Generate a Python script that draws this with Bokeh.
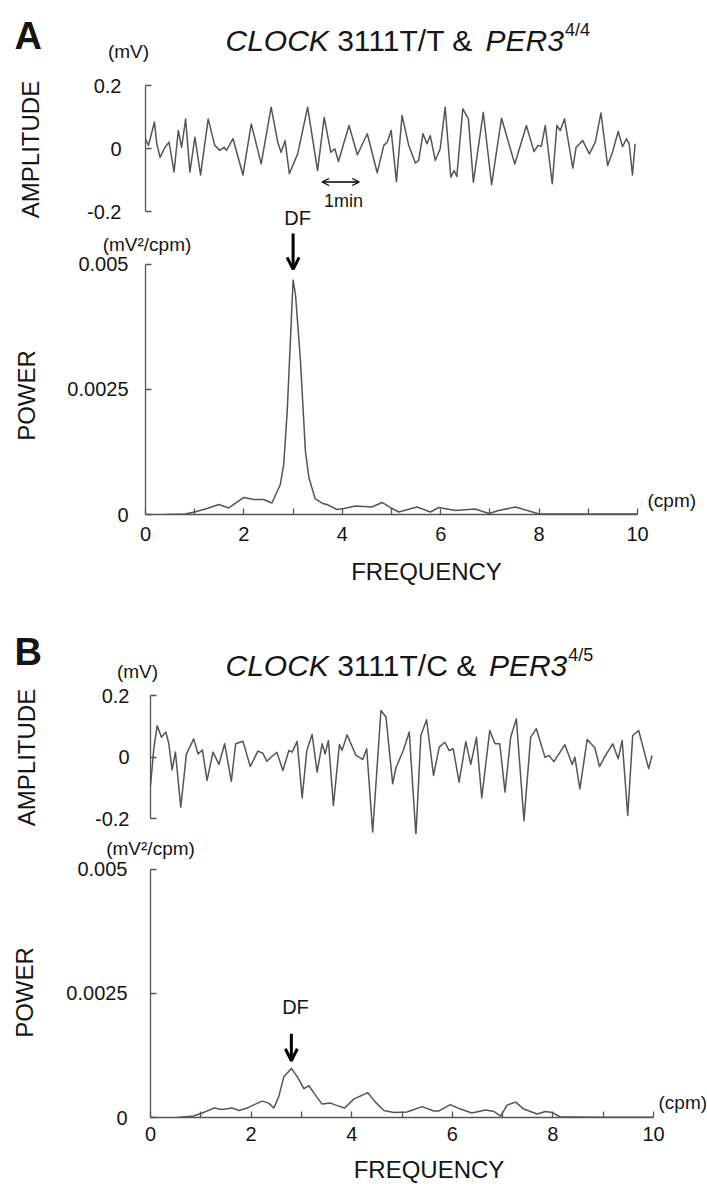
import numpy as np
from bokeh.plotting import figure
from bokeh.models import Range1d, Label, Arrow, OpenHead, FixedTicker, LinearAxis
from bokeh.layouts import column, row
from bokeh.embed import file_html
from bokeh.resources import INLINE

# ---------------- data ----------------
# Panel A: time trace (s) and amplitude (mV)
a_time = [0, 4.8, 9.1, 14.4, 18.2, 23.5, 31.5, 38.0, 46.0, 52.9, 58.3, 64.7, 71.6, 79.7, 88.8,
          101.1, 111.7, 119.8, 126.7, 130.5, 141.2, 157.2, 170.6, 186.6, 202.6, 213.3, 218.7,
          225.1, 232.0, 245.4, 261.5, 277.5, 288.2, 298.9, 305.3, 311.2, 328.3, 341.7, 357.7,
          373.7, 384.4, 389.8, 396.2, 404.7, 413.8, 424.5, 435.2, 440.6, 447.5, 453.9, 459.3,
          467.3, 475.3, 483.3, 492.4, 497.8, 502.1, 511.7, 520.8, 528.8, 544.8, 558.2, 574.2,
          595.6, 614.3, 626.6, 633.0, 638.4, 644.8, 656.0, 663.5, 668.9, 675.8, 689.2, 694.5,
          705.2, 715.9, 725.5, 734.6, 745.3, 753.4, 762.4, 769.4, 775.8, 780.1, 785.4, 789.7]
a_amp = [0.030, 0.010, 0.043, 0.084, 0.015, -0.028, 0.004, 0.020, -0.075, 0.057, 0.004, 0.094,
         -0.075, 0.036, -0.084, 0.094, 0.010, -0.006, 0.004, -0.006, 0.031, -0.084, 0.078,
         -0.049, 0.131, 0.020, -0.012, 0.025, -0.080, -0.017, 0.131, -0.070, 0.099, -0.012,
         -0.001, -0.041, 0.073, -0.020, 0.047, -0.077, 0.010, 0.020, 0.057, -0.105, 0.105,
         0.010, -0.046, -0.038, 0.047, 0.015, 0.041, -0.038, -0.001, 0.131, -0.091, -0.070,
         -0.089, 0.126, 0.094, -0.107, 0.115, -0.115, 0.096, -0.049, 0.073, -0.010, 0.010,
         0.007, 0.073, -0.112, 0.073, 0.057, 0.094, -0.062, 0.004, 0.025, -0.017, 0.020,
         0.113, -0.054, -0.010, 0.054, 0.006, 0.031, 0.015, -0.084, 0.015]

# Panel A: power spectrum
a_freq = [0.41, 0.8, 1.0, 1.25, 1.49, 1.69, 2.0, 2.2, 2.4, 2.57, 2.74, 2.81, 2.88, 2.95, 3.0,
          3.05, 3.15, 3.25, 3.32, 3.45, 3.6, 3.69, 3.89, 4.03, 4.27, 4.6, 4.81, 4.97, 5.15,
          5.52, 5.79, 5.96, 6.3, 6.7, 6.98, 7.18, 7.52, 8.0, 9.0, 10.0]
a_power = [0.0, 0.00001, 0.00005, 0.00012, 0.0002, 0.00013, 0.00034, 0.0003, 0.0003, 0.00023,
           0.0006, 0.0010, 0.00206, 0.00358, 0.00468, 0.00438, 0.00306, 0.00127, 0.00074,
           0.00031, 0.00022, 0.0002, 0.0001, 0.00012, 0.00017, 0.00015, 0.00024, 0.00014,
           0.00005, 0.00015, 0.00005, 0.00014, 0.00008, 0.00011, 0.00002, 0.00008, 0.00015,
           0.00001, 0.00001, 0.00001]

# Panel B: time trace (s) and amplitude (mV)
b_time = [0, 5.2, 10.5, 17.3, 24.1, 28.8, 34.0, 39.2, 47.6, 56.5, 68.0, 74.8, 81.6, 88.9, 98.3,
          107.7, 116.6, 127.1, 133.9, 145.4, 156.9, 168.9, 176.8, 183.1, 189.8, 198.8, 208.2,
          217.6, 222.8, 230.6, 238.5, 245.8, 254.2, 262.0, 269.9, 274.6, 279.8, 287.6, 297.1,
          301.2, 309.1, 323.2, 333.7, 340.0, 349.4, 362.4, 370.3, 380.8, 386.0, 397.5, 406.9,
          417.4, 425.2, 434.2, 445.1, 454.0, 462.9, 469.7, 476.0, 485.3, 495.8, 503.6, 512.6,
          520.9, 533.5, 541.8, 549.2, 557.5, 566.4, 575.3, 587.3, 597.8, 606.7, 620.3, 626.5,
          634.4, 651.6, 663.2, 667.3, 675.2, 686.7, 698.7, 706.1, 715.5, 726.9, 735.4, 741.7,
          750.5, 758.3, 767.7, 783.4, 788.7]
b_amp = [-0.093, 0.027, 0.102, 0.064, 0.081, 0.043, -0.042, 0.016, -0.163, 0.010, 0.059, 0.010,
         0.023, -0.076, 0.016, -0.024, 0.043, -0.079, 0.043, 0.051, -0.031, 0.019, 0.012,
         -0.014, 0.000, 0.015, -0.044, 0.021, 0.016, 0.051, -0.133, 0.021, 0.073, -0.049,
         0.043, 0.010, 0.054, -0.158, 0.041, 0.021, 0.072, 0.005, -0.008, 0.027, -0.244, 0.151,
         0.130, -0.087, -0.035, 0.021, 0.081, -0.255, 0.070, 0.121, -0.060, 0.032, 0.048,
         0.021, 0.027, -0.082, 0.050, -0.024, 0.064, -0.133, 0.086, 0.043, 0.043, -0.114,
         0.064, 0.124, -0.207, 0.064, 0.092, -0.001, 0.005, -0.015, 0.040, -0.024, 0.000,
         -0.104, 0.057, 0.030, -0.031, 0.005, 0.043, -0.006, 0.054, -0.190, 0.070, 0.086,
         -0.038, 0.005]

# Panel B: power spectrum
b_freq = [0.53, 0.86, 1.03, 1.26, 1.42, 1.62, 1.76, 1.92, 2.02, 2.22, 2.35, 2.45, 2.55, 2.65,
          2.80, 2.92, 3.05, 3.15, 3.28, 3.41, 3.58, 3.71, 3.86, 4.04, 4.32, 4.47, 4.64, 4.84,
          5.10, 5.40, 5.63, 5.73, 5.96, 6.16, 6.39, 6.66, 6.83, 6.96, 7.09, 7.26, 7.42, 7.69,
          7.85, 7.99, 8.15, 8.42, 9.0, 10.0]
b_power = [0.0, 0.00003, 0.00009, 0.00019, 0.00016, 0.00019, 0.00014, 0.00019, 0.00024, 0.00033,
           0.00029, 0.00019, 0.00042, 0.00082, 0.00099, 0.00082, 0.00058, 0.00064, 0.00045,
           0.00027, 0.00029, 0.00024, 0.00019, 0.00037, 0.0005, 0.00031, 0.00014, 0.0001,
           0.00011, 0.00022, 0.00013, 0.00013, 0.00026, 0.00017, 0.00009, 0.00015, 0.00012,
           0.00003, 0.00025, 0.00031, 0.00017, 0.00007, 0.00012, 0.0001, 0.00001, 0.00001,
           0.000005, 0.000005]

amp_ticks = [-0.2, 0.0, 0.2]
amp_tick_labels = ["-0.2", "0", "0.2"]
power_ticks = [0.0, 0.0025, 0.005]
power_tick_labels = ["0", "0.0025", "0.005"]
freq_ticks = [0, 2, 4, 6, 8, 10]
freq_minor_ticks = [1, 3, 5, 7, 9]

title_a = ("CLOCK", "3111T/T &", "PER3", "4/4")
title_b = ("CLOCK", "3111T/C &", "PER3", "4/5")
amp_unit = "(mV)"
power_unit = "(mV²/cpm)"
freq_unit = "(cpm)"

# ---------------- styling / layout ----------------
W = 707
STRIP = 50
FONT = "Liberation Sans"
INK = "#151515"
GREY = "#555555"

ADV = {'C': .722, 'L': .556, 'O': .778, 'K': .667, ' ': .278, 'T': .611, '/': .278,
       '&': .667, 'P': .667, 'E': .667, 'R': .722}


def adv(s, size):
    return sum(ADV.get(c, 0.556) for c in s) * size


def bare(p):
    p.outline_line_color = None
    p.grid.visible = False
    p.background_fill_color = "white"
    p.border_fill_color = "white"


def text_fig(left, top, w, h):
    """A figure with no axes whose frame covers it; its units are page pixels."""
    p = figure(width=w, height=h, title=None, x_range=Range1d(left, left + w),
               y_range=Range1d(top + h, top), output_backend="svg",
               toolbar_location=None, tools="", x_axis_location=None, y_axis_location=None,
               min_border_left=0, min_border_right=0, min_border_top=0, min_border_bottom=0)
    bare(p)
    return p, (lambda cx, cy: (cx, cy))


def plot_fig(left, top, w, h, L, T, B, ppx, y_val, y_px, ppy, x_axis):
    R = left + w
    x_end = (R - L) / ppx
    y_end = y_val + (y_px - T) / ppy
    y_start = y_val - (B - y_px) / ppy
    p = figure(width=w, height=h, title=None, x_range=Range1d(0, x_end),
               y_range=Range1d(y_start, y_end), output_backend="svg",
               toolbar_location=None, tools="",
               x_axis_location="below" if x_axis else None, y_axis_location="left",
               min_border_left=L - left, min_border_right=0,
               min_border_top=T - top, min_border_bottom=top + h - B)
    bare(p)
    return p, (lambda cx, cy: ((cx - L) / ppx, y_end - (cy - T) / ppy))


def style_axis(ax, ticks, labels, standoff, minor=None):
    ax.ticker = FixedTicker(ticks=ticks, minor_ticks=minor or [])
    if labels:
        ax.major_label_overrides = dict(zip(ticks, labels))
    ax.bounds = (ticks[0], ticks[-1])
    ax.axis_line_color = GREY
    ax.axis_line_width = 1.3
    ax.major_tick_line_color = GREY
    ax.major_tick_line_width = 1.3
    ax.major_tick_in = 6
    ax.major_tick_out = 0
    ax.minor_tick_line_color = GREY if minor else None
    ax.minor_tick_line_width = 1.3
    ax.minor_tick_in = 6
    ax.minor_tick_out = 0
    ax.major_label_text_font = FONT
    ax.major_label_text_font_size = "20px"
    ax.major_label_text_color = INK
    ax.major_label_standoff = standoff


def freq_label(ax, standoff):
    ax.axis_label = "FREQUENCY"
    ax.axis_label_text_font = FONT
    ax.axis_label_text_font_size = "24px"
    ax.axis_label_text_font_style = "normal"
    ax.axis_label_text_color = INK
    ax.axis_label_standoff = standoff


def unit_axis(p, x, label, standoff):
    """Unit text above the y axis, written as the single label of a bare top axis."""
    ax = LinearAxis(ticker=FixedTicker(ticks=[x]), major_label_overrides={x: label},
                    axis_line_color=None, major_tick_line_color=None,
                    minor_tick_line_color=None, major_tick_out=0, major_tick_in=0,
                    major_label_standoff=standoff, major_label_text_font=FONT,
                    major_label_text_font_size="19px", major_label_text_color=INK)
    p.add_layout(ax, "above")


def text(p, to_data, cx, cy, s, size, style="normal", align="center",
         baseline="middle", angle=0.0):
    x, y = to_data(cx, cy)
    p.add_layout(Label(x=x, y=y, text=s, text_font=FONT, text_font_size=f"{size}px",
                       text_font_style=style, text_align=align, text_baseline=baseline,
                       angle=angle, text_color=INK))


def heading(p, to_data, letter, letter_base, parts, base, unit, unit_xy):
    text(p, to_data, 14, letter_base, letter, 38, "bold", "left", "alphabetic")
    size = 30
    g1, mid, g2, sup = parts
    x = 225
    text(p, to_data, x, base, g1, size, "italic", "left", "alphabetic")
    x += adv(g1 + " ", size)
    text(p, to_data, x, base, mid, size, "normal", "left", "alphabetic")
    x += adv(mid + " ", size)
    text(p, to_data, x, base, g2, size, "italic", "left", "alphabetic")
    x += adv(g2, size) + 1
    text(p, to_data, x, base - 11, sup, 18, "normal", "left", "alphabetic")
    text(p, to_data, unit_xy[0], unit_xy[1], unit, 19)


def df_arrow(p, to_data, x, top_px, tip_px):
    _, ys = to_data(0, top_px)
    _, ye = to_data(0, tip_px)
    p.add_layout(Arrow(x_start=x, y_start=ys, x_end=x, y_end=ye,
                       line_color="black", line_width=3,
                       end=OpenHead(size=12, line_width=3, line_color="black")))


def trace(p, x, y):
    p.line(x, y, line_color=GREY, line_width=1.5, line_join="round")


# ================= Panel A =================
hA, dhA = text_fig(0, 0, W, 64)
heading(hA, dhA, "A", 35, title_a, 40, amp_unit, (128, 51))

sA, dsA = text_fig(0, 64, STRIP, 526)
text(sA, dsA, 30, 149, "AMPLITUDE", 24, angle=np.pi / 2)
text(sA, dsA, 26, 395, "POWER", 24, angle=np.pi / 2)

# amplitude trace
pA1, dA1 = plot_fig(STRIP, 64, W - STRIP, 166, 142, 64, 230, 37.4 / 60, 0.2, 85, 126 / 0.4, False)
trace(pA1, a_time, a_amp)
style_axis(pA1.yaxis[0], amp_ticks, amp_tick_labels, 24)
x1, y1 = dA1(319.5, 181.5)
pA1.add_layout(Arrow(x_start=x1, y_start=y1, x_end=x1 + 60, y_end=y1,
                     line_color="black", line_width=1.3,
                     start=OpenHead(size=7, line_width=1.3, line_color="black"),
                     end=OpenHead(size=7, line_width=1.3, line_color="black")))
text(pA1, dA1, 341, 200, "1min", 18)
text(pA1, dA1, 295, 217, "DF", 20)

# power spectrum
pA2, dA2 = plot_fig(STRIP, 230, W - STRIP, 360, 145, 232, 514, 49.2, 0.0, 514, 251.3 / 0.005, True)
trace(pA2, a_freq, a_power)
style_axis(pA2.yaxis[0], power_ticks, power_tick_labels, 17)
style_axis(pA2.xaxis[0], freq_ticks, None, 12, freq_minor_ticks)
freq_label(pA2.xaxis[0], 14)
unit_axis(pA2, dA2(146.5, 0)[0], power_unit, -21)
text(pA2, dA2, 647, 500, freq_unit, 19, align="left")
df_arrow(pA2, dA2, a_freq[int(np.argmax(a_power))], 226, 268)

# ================= Panel B =================
hB, dhB = text_fig(0, 590, W, 94)
heading(hB, dhB, "B", 651, title_b, 665, amp_unit, (137, 671))

sB, dsB = text_fig(0, 684, STRIP, 503)
text(sB, dsB, 26, 757, "AMPLITUDE", 24, angle=np.pi / 2)
text(sB, dsB, 24, 992, "POWER", 24, angle=np.pi / 2)

pB1, dB1 = plot_fig(STRIP, 684, W - STRIP, 150, 149, 684, 834, 37.4 / 60 * 1.022, 0.2, 695, 123 / 0.4, False)
trace(pB1, b_time, b_amp)
style_axis(pB1.yaxis[0], amp_ticks, amp_tick_labels, 21)

pB2, dB2 = plot_fig(STRIP, 834, W - STRIP, 353, 150, 848, 1117, 50.3, 0.0, 1117, 249 / 0.005, True)
trace(pB2, b_freq, b_power)
style_axis(pB2.yaxis[0], power_ticks, power_tick_labels, 23)
style_axis(pB2.xaxis[0], freq_ticks, None, 9, freq_minor_ticks)
freq_label(pB2.xaxis[0], 12)
unit_axis(pB2, 0.001, power_unit, -9)
text(pB2, dB2, 658, 1102, freq_unit, 19, align="left")
text(pB2, dB2, 295, 1006, "DF", 20)
df_arrow(pB2, dB2, b_freq[int(np.argmax(b_power))], 1033, 1060)

layout = column(
    hA,
    row(sA, column(pA1, pA2, spacing=0), spacing=0),
    hB,
    row(sB, column(pB1, pB2, spacing=0), spacing=0),
    spacing=0,
)
open("out.html", "w").write(file_html(layout, INLINE))
